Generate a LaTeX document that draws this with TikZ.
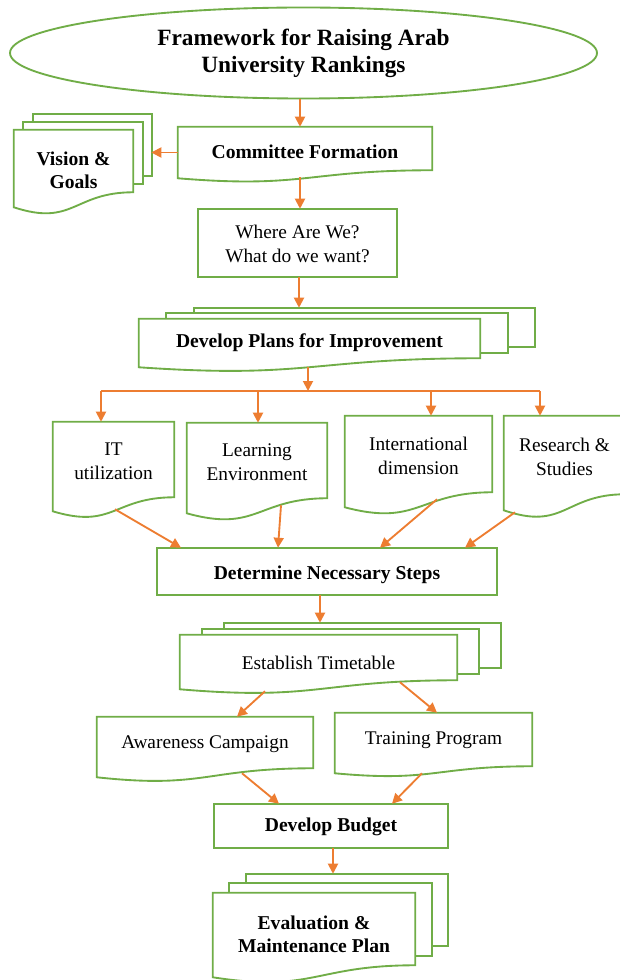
\documentclass[tikz,border=0pt]{standalone}
\usepackage{fontspec}
\setmainfont{Liberation Serif}
\usetikzlibrary{shapes.geometric,arrows.meta,backgrounds}

\definecolor{frameGreen}{RGB}{112,173,71}
\definecolor{linkOrange}{RGB}{237,125,49}

% document page: flat top, wavy bottom (left end lower by #2 px)
\newcommand\docpage[2]{%
  \draw[page] (#1.north west) -- (#1.north east) -- (#1.south east)
    .. controls (#1.south) and ([shift={(0,2.31*#2)}]#1.south)
    .. ([shift={(0,#2)}]#1.south west) -- cycle;}
% two pages stacked behind a document page, offset by (#2,-#3) each
\newcommand\pagestack[3]{%
  \draw[page] ([shift={(2*#2,-2*#3)}]#1.north west) rectangle ([shift={(2*#2,-2*#3)}]#1.south east);
  \draw[page] ([shift={(#2,-#3)}]#1.north west) rectangle ([shift={(#2,-#3)}]#1.south east);}

\tikzset{
  page/.style={draw=frameGreen, line width=1.4pt, fill=white},
  box/.style 2 args={rectangle, draw=none, inner sep=0pt,
    minimum width=#1*0.75pt, minimum height=#2*0.75pt},
  txt/.style={align=center, font=\fontsize{14.5}{18}\selectfont},
  btxt/.style={align=center, font=\fontsize{14.7}{17.4}\selectfont\bfseries},
  tdrop/.style={yshift=-#1*0.75pt},
  title/.style={ellipse, draw=frameGreen, line width=1.4pt, fill=white,
    inner sep=0pt, minimum width=587*0.75pt, minimum height=91*0.75pt,
    align=center, font=\fontsize{17.5}{20.3}\selectfont\bfseries},
  link/.style={draw=linkOrange, line width=1.4pt,
    -{Triangle[length=7.5pt,width=7.5pt]}},
  conn/.style={draw=linkOrange, line width=1.4pt},
}

\begin{document}
\begin{tikzpicture}[x=0.75pt, y=-0.75pt]
\path[use as bounding box] (0,0) rectangle (619,980);

% title
\node[title] (ti) at (303.5,53) {Framework for Raising Arab\\University Rankings};

% boxes
\node[box={254}{43}, label={[btxt,name=cf-t,tdrop=3.5]center:Committee Formation}] (cf) at (305,148.5) {};
\node[box={119}{62}, label={[btxt,name=vg-t,tdrop=9]center:Vision \&\\Goals}] (vg) at (73.5,161) {};
\node[box={199}{68}, label={[txt,name=wh-t,tdrop=1]center:Where Are We?\\What do we want?}] (wh) at (297.5,243) {};
\node[box={341}{39}, label={[btxt,name=dp-t,tdrop=4.5]center:Develop Plans for Improvement}] (dp) at (309.5,338.5) {};
\node[box={121}{75}, label={[txt,name=it-t,tdrop=1.5]center:IT\\utilization}] (it) at (113.5,459.5) {};
\node[box={140}{75}, label={[txt,name=lr-t,tdrop=1.5]center:Learning\\Environment}] (lr) at (257,460.5) {};
\node[box={147}{76}, label={[txt,name=in-t,tdrop=1.5]center:International\\dimension}] (in) at (418.5,454) {};
\node[box={121}{78}, label={[txt,name=rs-t,tdrop=1.5]center:Research \&\\Studies}] (rs) at (564.5,455) {};
\node[box={340}{47}, label={[btxt,name=dn-t,tdrop=3.5]center:Determine Necessary Steps}] (dn) at (327,571.5) {};
\node[box={277}{45}, label={[txt,name=et-t,tdrop=5.5]center:Establish Timetable}] (et) at (318.5,657.5) {};
\node[box={216}{51}, label={[txt,name=aw-t,tdrop=1.5]center:Awareness Campaign}] (aw) at (205,742.5) {};
\node[box={197}{53}, label={[txt,name=tr-t,tdrop=0.5]center:Training Program}] (tr) at (433.5,739.5) {};
\node[box={234}{44}, label={[btxt,name=bg-t,tdrop=1]center:Develop Budget}] (bg) at (331,826) {};
\node[box={202}{72}, label={[btxt,name=ev-t,tdrop=5]center:Evaluation \&\\Maintenance Plan}] (ev) at (314,929) {};

% outlines of the boxes
\begin{scope}[on background layer]
  \pagestack{vg}{9.5}{8}
  \docpage{vg}{15}
  \docpage{cf}{8}
  \draw[page] (wh.north west) rectangle (wh.south east);
  \pagestack{dp}{27.5}{5.5}
  \docpage{dp}{9}
  \docpage{it}{14}
  \docpage{lr}{15}
  \docpage{in}{15}
  \docpage{rs}{16}
  \draw[page] (dn.north west) rectangle (dn.south east);
  \pagestack{et}{22}{6}
  \docpage{et}{9}
  \docpage{aw}{9}
  \docpage{tr}{7}
  \draw[page] (bg.north west) rectangle (bg.south east);
  \pagestack{ev}{16.5}{9.5}
  \docpage{ev}{12}
\end{scope}

% branching line under the plans
\coordinate (b0) at (308,391);
\coordinate (b1) at (101,391);
\coordinate (b2) at (258,391);
\coordinate (b3) at (431,391);
\coordinate (b4) at (540,391);

% connectors
\draw[link] ([shift={(-3.5,0)}]ti.south) -- ([shift={(-5,0)}]cf.north);
\draw[link] ([shift={(0,4)}]cf.west) -- ([shift={(18,-8.5)}]vg.east);
\draw[link] ([shift={(-5,7)}]cf.south) -- ([shift={(2.5,0)}]wh.north);
\draw[link] ([shift={(1.5,0)}]wh.south) -- ([shift={(-10.5,-11)}]dp.north);
\draw[link] ([shift={(-1.5,9)}]dp.south) -- (b0);
\draw[conn] (b1) -- (b4);
\draw[link] (b1) -- (b1 |- it.north);
\draw[link] (b2) -- (b2 |- lr.north);
\draw[link] (b3) -- (b3 |- in.north);
\draw[link] (b4) -- (b4 |- rs.north);

\draw[link] ([shift={(1.5,12)}]it.south) -- ([shift={(-146,0)}]dn.north);
\draw[link] ([shift={(24,7)}]lr.south) -- ([shift={(-49,0)}]dn.north);
\draw[link] ([shift={(18.5,7)}]in.south) -- ([shift={(53,0)}]dn.north);
\draw[link] ([shift={(-49.5,18)}]rs.south) -- ([shift={(138,0)}]dn.north);

\draw[link] ([shift={(-7,0)}]dn.south) -- ([shift={(1.5,-12)}]et.north);
\draw[link] ([shift={(-53.5,11)}]et.south) -- ([shift={(32,0)}]aw.north);
\draw[link] ([shift={(81.5,2)}]et.south) -- ([shift={(3.5,0)}]tr.north);
\draw[link] ([shift={(37,5)}]aw.south) -- ([shift={(-52,0)}]bg.north);
\draw[link] ([shift={(-11.5,7)}]tr.south) -- ([shift={(61,0)}]bg.north);
\draw[link] ([shift={(2,0)}]bg.south) -- ([shift={(19,-19)}]ev.north);
\end{tikzpicture}
\end{document}
